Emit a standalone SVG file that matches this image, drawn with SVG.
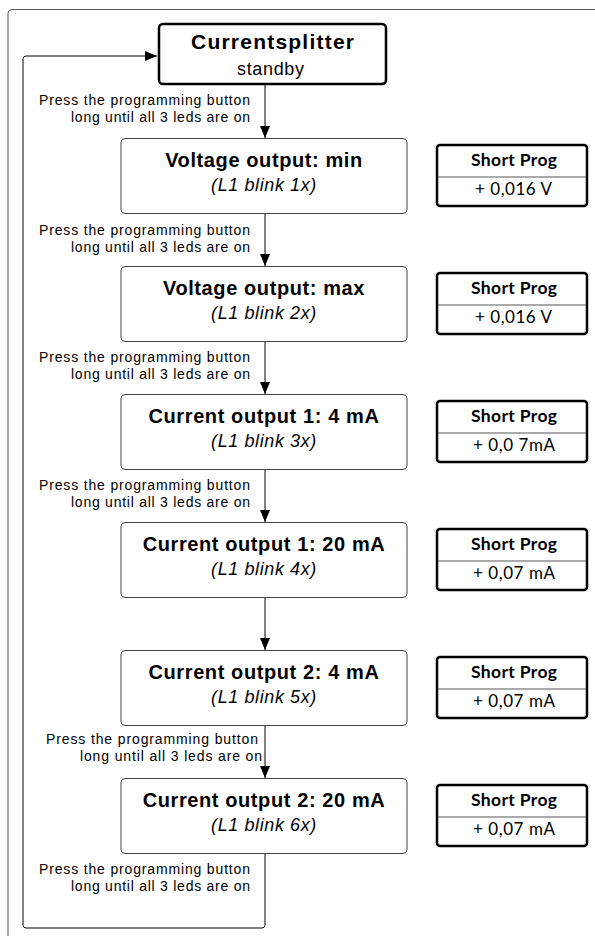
<svg xmlns="http://www.w3.org/2000/svg" width="595" height="936" viewBox="0 0 595 936">
<style>
.frame{fill:none;stroke:#555;stroke-width:1}
.start{fill:#fff;stroke:#000;stroke-width:2.5}
.state{fill:#fff;stroke:#444;stroke-width:1}
.sp{fill:#fff;stroke:#000;stroke-width:2.5}
.div{stroke:#555;stroke-width:1}
.conn{fill:none;stroke:#000;stroke-width:1}
.lbl{font-family:"Liberation Sans",Arial,sans-serif;font-size:14px;fill:#000}
.title{font-family:"Liberation Sans",Arial,sans-serif;font-size:20px;font-weight:bold;fill:#000;text-anchor:middle;letter-spacing:0.6px}
.sub{font-family:"Liberation Sans",Arial,sans-serif;font-size:18px;font-style:italic;fill:#000;text-anchor:middle;letter-spacing:0.6px}
.sph{font-family:Lato,"Open Sans",sans-serif;font-size:17.5px;font-weight:bold;fill:#000}
.spv{font-family:Lato,"Open Sans",sans-serif;font-size:17px;fill:#000}
</style>
<defs>
<marker id="arr" markerUnits="userSpaceOnUse" markerWidth="12" markerHeight="10" refX="12" refY="5" orient="auto">
<path d="M0,0 L12,5 L0,10 Z" fill="#000"/>
</marker>
</defs>
<rect class="frame" x="8" y="9.5" width="700" height="1000" rx="4"/>
<g id="connectors">
<line class="conn" x1="265" y1="85" x2="265" y2="138" marker-end="url(#arr)"/>
<line class="conn" x1="265" y1="213" x2="265" y2="266" marker-end="url(#arr)"/>
<line class="conn" x1="265" y1="341" x2="265" y2="394" marker-end="url(#arr)"/>
<line class="conn" x1="265" y1="469" x2="265" y2="522" marker-end="url(#arr)"/>
<line class="conn" x1="265" y1="597" x2="265" y2="650" marker-end="url(#arr)"/>
<line class="conn" x1="265" y1="725" x2="265" y2="778" marker-end="url(#arr)"/>
<path class="conn" d="M265,853 L265,925 Q265,928 262,928 L26,928 Q23,928 23,925 L23,59 Q23,56 26,56 L157,56" marker-end="url(#arr)"/>
</g>
<g id="labels">
<text class="lbl" x="39" y="105" textLength="211">Press the programming button</text>
<text class="lbl" x="71" y="122" textLength="179">long until all 3 leds are on</text>
<text class="lbl" x="39" y="235" textLength="211">Press the programming button</text>
<text class="lbl" x="71" y="252" textLength="179">long until all 3 leds are on</text>
<text class="lbl" x="39" y="362" textLength="211">Press the programming button</text>
<text class="lbl" x="71" y="379" textLength="179">long until all 3 leds are on</text>
<text class="lbl" x="39" y="490" textLength="211">Press the programming button</text>
<text class="lbl" x="71" y="507" textLength="179">long until all 3 leds are on</text>
<text class="lbl" x="46" y="744" textLength="212">Press the programming button</text>
<text class="lbl" x="80" y="761" textLength="182">long until all 3 leds are on</text>
<text class="lbl" x="39" y="874" textLength="211">Press the programming button</text>
<text class="lbl" x="71" y="891" textLength="179">long until all 3 leds are on</text>
</g>
<g id="start">
<rect class="start" x="159" y="24" width="227" height="60" rx="4"/>
<text x="191" y="49" textLength="163" style="font-family:'Liberation Sans',Arial,sans-serif;font-size:21px;font-weight:bold">Currentsplitter</text>
<text x="237" y="75" textLength="67" style="font-family:'Liberation Sans',Arial,sans-serif;font-size:18px">standby</text>
</g>
<g id="state1">
<rect class="state" x="121" y="138.5" width="286" height="75" rx="4"/>
<text class="title" x="264" y="167">Voltage output: min</text>
<text class="sub" x="264" y="191">(L1 blink 1x)</text>
</g>
<g id="state2">
<rect class="state" x="121" y="266.5" width="286" height="75" rx="4"/>
<text class="title" x="264" y="295">Voltage output: max</text>
<text class="sub" x="264" y="319">(L1 blink 2x)</text>
</g>
<g id="state3">
<rect class="state" x="121" y="394.5" width="286" height="75" rx="4"/>
<text class="title" x="264" y="423">Current output 1: 4 mA</text>
<text class="sub" x="264" y="447">(L1 blink 3x)</text>
</g>
<g id="state4">
<rect class="state" x="121" y="522.5" width="286" height="75" rx="4"/>
<text class="title" x="264" y="551">Current output 1: 20 mA</text>
<text class="sub" x="264" y="575">(L1 blink 4x)</text>
</g>
<g id="state5">
<rect class="state" x="121" y="650.5" width="286" height="75" rx="4"/>
<text class="title" x="264" y="679">Current output 2: 4 mA</text>
<text class="sub" x="264" y="703">(L1 blink 5x)</text>
</g>
<g id="state6">
<rect class="state" x="121" y="778.5" width="286" height="75" rx="4"/>
<text class="title" x="264" y="807">Current output 2: 20 mA</text>
<text class="sub" x="264" y="831">(L1 blink 6x)</text>
</g>
<g id="prog1">
<rect class="sp" x="437" y="145" width="150" height="61" rx="3"/>
<line class="div" x1="438" y1="177" x2="586" y2="177"/>
<text class="sph" x="471" y="166" textLength="86">Short Prog</text>
<text class="spv" x="475" y="195" textLength="77">+ 0,016 V</text>
</g>
<g id="prog2">
<rect class="sp" x="437" y="273" width="150" height="61" rx="3"/>
<line class="div" x1="438" y1="305" x2="586" y2="305"/>
<text class="sph" x="471" y="294" textLength="86">Short Prog</text>
<text class="spv" x="475" y="323" textLength="77">+ 0,016 V</text>
</g>
<g id="prog3">
<rect class="sp" x="437" y="401" width="150" height="61" rx="3"/>
<line class="div" x1="438" y1="433" x2="586" y2="433"/>
<text class="sph" x="471" y="422" textLength="86">Short Prog</text>
<text class="spv" x="473" y="451" textLength="82">+ 0,0 7mA</text>
</g>
<g id="prog4">
<rect class="sp" x="437" y="529" width="150" height="61" rx="3"/>
<line class="div" x1="438" y1="561" x2="586" y2="561"/>
<text class="sph" x="471" y="550" textLength="86">Short Prog</text>
<text class="spv" x="473" y="579" textLength="82">+ 0,07 mA</text>
</g>
<g id="prog5">
<rect class="sp" x="437" y="657" width="150" height="61" rx="3"/>
<line class="div" x1="438" y1="689" x2="586" y2="689"/>
<text class="sph" x="471" y="678" textLength="86">Short Prog</text>
<text class="spv" x="473" y="707" textLength="82">+ 0,07 mA</text>
</g>
<g id="prog6">
<rect class="sp" x="437" y="785" width="150" height="61" rx="3"/>
<line class="div" x1="438" y1="817" x2="586" y2="817"/>
<text class="sph" x="471" y="806" textLength="86">Short Prog</text>
<text class="spv" x="473" y="835" textLength="82">+ 0,07 mA</text>
</g>
</svg>
